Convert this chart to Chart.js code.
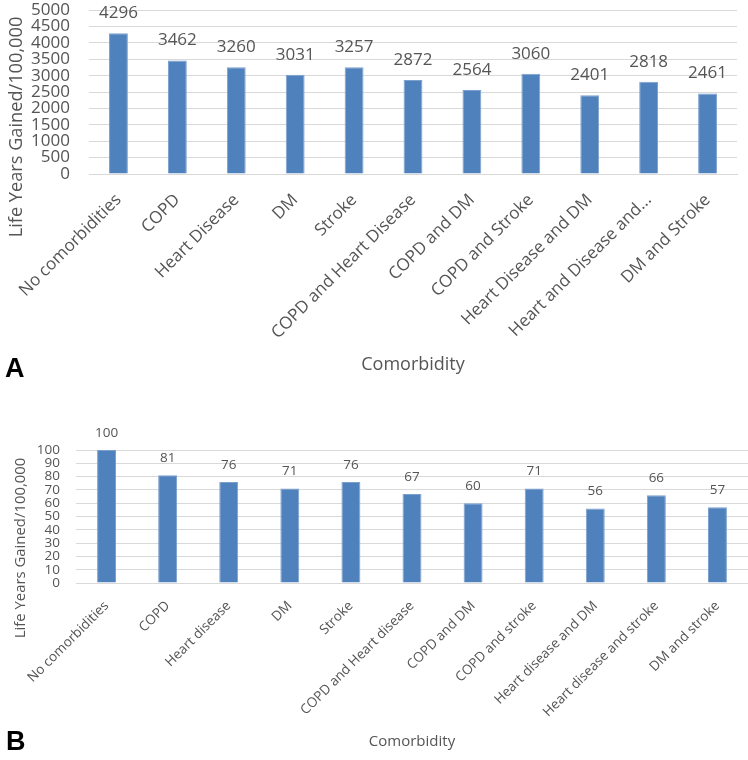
<!DOCTYPE html>
<html>
<head>
<meta charset="utf-8">
<script src="https://cdn.jsdelivr.net/npm/chart.js@4.4.0/dist/chart.umd.min.js"></script>
<style>
  body { margin: 0; background: #fff; }
  #wrap { position: relative; width: 748px; height: 760px; }
  canvas { position: absolute; left: 0; }
  #chartA { top: 0; }
  #chartB { top: 385px; }
</style>
</head>
<body>
<div id="wrap">
  <canvas id="chartA" width="748" height="385"></canvas>
  <canvas id="chartB" width="748" height="375"></canvas>
</div>
<script>
// Panel A: life years gained per 100,000
const labelsA = ['No comorbidities', 'COPD', 'Heart Disease', 'DM', 'Stroke',
  'COPD and Heart Disease', 'COPD and DM', 'COPD and Stroke',
  'Heart Disease and DM', 'Heart and Disease and...', 'DM and Stroke'];
const valuesA = [4296, 3462, 3260, 3031, 3257, 2872, 2564, 3060, 2401, 2818, 2461];

// Panel B: relative to no comorbidities (=100)
const labelsB = ['No comorbidities', 'COPD', 'Heart disease', 'DM', 'Stroke',
  'COPD and Heart disease', 'COPD and DM', 'COPD and stroke',
  'Heart disease and DM', 'Heart disease and stroke', 'DM and stroke'];
const valuesB = [100, 81, 76, 71, 76, 67, 60, 71, 56, 66, 57];

const FONT = '"Open Sans", sans-serif';
const TEXT = '#555555';
const GRID = '#d9d9d9';
const BLUE = '#4f81bd';

// draws value labels above bars, the rotated y title and the panel letter
const extras = {
  id: 'extras',
  afterDatasetsDraw(chart, args, opts) {
    const ctx = chart.ctx;
    const meta = chart.getDatasetMeta(0);
    ctx.save();
    ctx.fillStyle = TEXT;
    ctx.font = opts.valueSize + 'px ' + FONT;
    ctx.textAlign = 'center';
    ctx.textBaseline = 'middle';
    meta.data.forEach((bar, i) => {
      ctx.fillText(chart.data.datasets[0].data[i], bar.x, bar.y - opts.valueGap);
    });

    ctx.translate(opts.yTitleX, opts.yTitleY);
    ctx.rotate(-Math.PI / 2);
    ctx.font = opts.yTitleSize + 'px ' + FONT;
    ctx.fillText('Life Years Gained/100,000', 0, 0);
    ctx.restore();

    ctx.save();
    ctx.fillStyle = '#000';
    ctx.font = 'bold 27px "Liberation Sans", Arial, sans-serif';
    ctx.textAlign = 'left';
    ctx.textBaseline = 'alphabetic';
    ctx.fillText(opts.panel, opts.panelX, opts.panelY);
    ctx.restore();
  }
};

function makeChart(id, labels, values, cfg) {
  return new Chart(document.getElementById(id), {
    type: 'bar',
    data: {
      labels: labels,
      datasets: [{
        data: values,
        backgroundColor: BLUE,
        borderColor: '#7ba0cd',
        borderWidth: 1,
        barPercentage: cfg.barPct,
        categoryPercentage: 1
      }]
    },
    options: {
      responsive: false,
      animation: false,
      layout: { padding: cfg.padding },
      plugins: {
        legend: { display: false },
        tooltip: { enabled: false },
        extras: cfg.extras
      },
      scales: {
        x: {
          grid: { display: false },
          border: { display: true, color: GRID, width: 1 },
          ticks: {
            color: TEXT,
            font: { family: FONT, size: cfg.xTickSize },
            minRotation: 45,
            maxRotation: 45,
            autoSkip: false,
            padding: cfg.xTickPad
          },
          title: {
            display: true,
            text: 'Comorbidity',
            color: TEXT,
            font: { family: FONT, size: cfg.xTitleSize },
            padding: { top: 0, bottom: cfg.xTitlePad }
          },
          afterFit: s => { s.height = cfg.xHeight; }
        },
        y: {
          min: 0,
          max: cfg.yMax,
          // invisible tick marks give the gap between labels and plot
          grid: { color: GRID, drawTicks: true, tickLength: cfg.yTickPad, tickColor: 'rgba(0,0,0,0)' },
          border: { display: false },
          ticks: {
            stepSize: cfg.yStep,
            autoSkip: false,
            callback: v => String(v),
            color: TEXT,
            font: { family: FONT, size: cfg.yTickSize },
            padding: 0
          },
          afterFit: s => { s.width = cfg.yWidth; }
        }
      }
    },
    plugins: [extras]
  });
}

makeChart('chartA', labelsA, valuesA, {
  barPct: 0.32,
  padding: { top: 10, right: 11, left: 0, bottom: 0 },
  xTickSize: 17, xTickPad: 8, xTitleSize: 18, xTitlePad: 9, xHeight: 211,
  yMax: 5000, yStep: 500, yTickSize: 17, yTickPad: 19, yWidth: 89,
  extras: { valueSize: 17, valueGap: 20, yTitleX: 17, yTitleY: 127, yTitleSize: 18.2,
            panel: 'A', panelX: 5, panelY: 377 }
});

makeChart('chartB', labelsB, valuesB, {
  barPct: 0.31,
  padding: { top: 65, right: 0, left: 0, bottom: 0 },
  xTickSize: 13.5, xTickPad: 7, xTitleSize: 15, xTitlePad: 9, xHeight: 177,
  yMax: 100, yStep: 10, yTickSize: 13.5, yTickPad: 16, yWidth: 76,
  extras: { valueSize: 13.5, valueGap: 17, yTitleX: 21, yTitleY: 163, yTitleSize: 14.9,
            panel: 'B', panelX: 6, panelY: 365 }
});
</script>
</body>
</html>
